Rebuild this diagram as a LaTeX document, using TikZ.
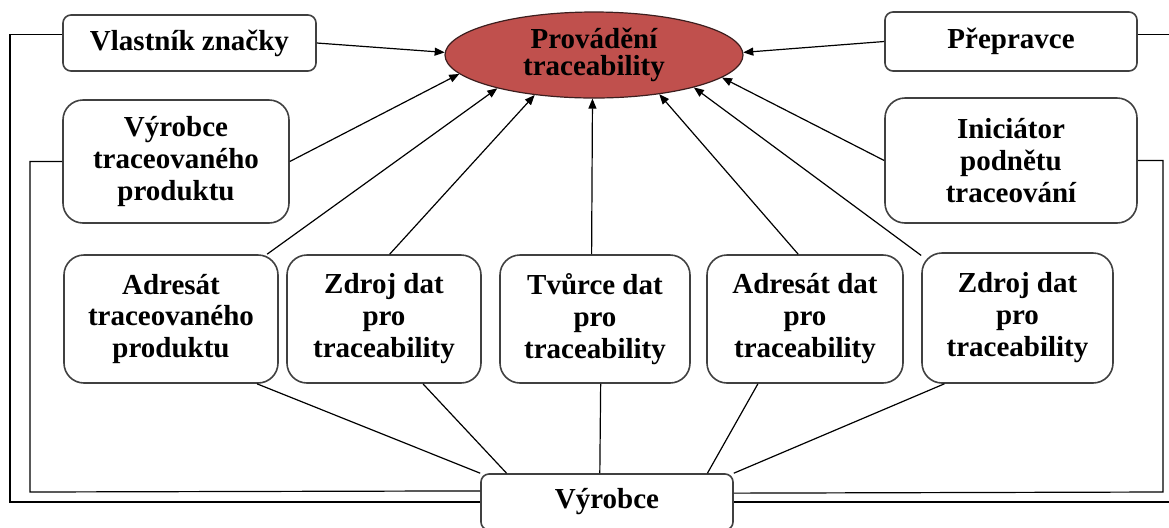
\documentclass[tikz,border=0pt]{standalone}
\usepackage{fontspec}
\setmainfont{Liberation Serif}
\usetikzlibrary{arrows.meta,shapes.geometric}
\definecolor{tracered}{RGB}{192,80,77}
\definecolor{edgegray}{RGB}{64,64,64}
\definecolor{traceedge}{RGB}{60,30,30}

\begin{document}
\begin{tikzpicture}[
		x=0.5pt,
		y=-0.5pt,
		box/.style={
			rounded corners=10pt,
			draw=edgegray,
			line width=0.8pt,
			fill=white,
			align=center,
			inner sep=0pt,
			font=\bfseries\fontsize{14.5}{16}\selectfont
		},
		smallbox/.style={box, rounded corners=4pt},
		goal/.style={
			ellipse,
			draw=traceedge,
			line width=0.6pt,
			fill=tracered,
			align=center,
			inner sep=0pt,
			minimum width=149pt,
			minimum height=43pt,
			font=\bfseries\fontsize{14.5}{13.5}\selectfont
		},
		arrow/.style={-{Triangle[length=5pt,width=4pt]}, line width=0.6pt},
		link/.style={line width=0.6pt}
	]
	
	% Canvas
	\useasboundingbox (0,0) rectangle (1169,527);
	\clip (0,0) rectangle (1169,527);
	
	% Goal
	\node[goal] (trace) at (594,55) {Provádění\\traceability};
	
	% Top boxes
	\node[smallbox, minimum width=126.5pt, minimum height=28pt] (vlastnik) at (189.5,43) {Vlastník značky};
	\node[smallbox, minimum width=126pt, minimum height=29.5pt] (prepravce) at (1011,41.5) {Přepravce};
	\node[box, minimum width=113pt, minimum height=61.5pt] (vyrobceTP) at (176,161.5) {Výrobce\\traceovaného\\produktu};
	\node[box, minimum width=126pt, minimum height=62.5pt] (iniciator) at (1011,160.5) {Iniciátor\\podnětu\\traceování};
	
	% Row of boxes
	\node[box, minimum width=107pt, minimum height=64pt] (adresatTP) at (171,319) {Adresát\\traceovaného\\produktu};
	\node[box, minimum width=97pt, minimum height=64pt] (zdrojA) at (384,319) {Zdroj dat\\pro\\traceability};
	\node[box, minimum width=95pt, minimum height=64pt] (tvurce) at (595,319) {Tvůrce dat\\pro\\traceability};
	\node[box, minimum width=98pt, minimum height=64pt] (adresatD) at (805,319) {Adresát dat\\pro\\traceability};
	\node[box, minimum width=95.5pt, minimum height=65pt] (zdrojB) at (1017.5,318) {Zdroj dat\\pro\\traceability};
	
	% Producer
	\node[smallbox, minimum width=126pt, minimum height=28pt] (vyrobce) at (607,502) {Výrobce};
	
	% Arrows
	\draw[arrow] (vlastnik.east) -- (trace.179);
	\draw[arrow] (prepravce.west) -- (trace.1);
	\draw[arrow] (vyrobceTP.east) -- (trace.188);
	\draw[arrow] (iniciator.west) -- (trace.350.5);
	\draw[arrow] (adresatTP.34) -- (trace.199);
	\draw[arrow] (zdrojA.85) -- (trace.214);
	\draw[arrow] (tvurce.93) -- (trace.268);
	\draw[arrow] (adresatD.96) -- (trace.329);
	\draw[arrow] (zdrojB.147) -- (trace.342);
	
	% Lines to producer
	\draw[link] (adresatTP.323) -- (vyrobce.north west);
	\draw[link] (zdrojA.301) -- (vyrobce.164);
	\draw[link] (tvurce.275) -- (vyrobce.104);
	\draw[link] (adresatD.234) -- (vyrobce.16);
	\draw[link] (zdrojB.222) -- (vyrobce.north east);
	
	% Side rails
	\draw[link] (vlastnik.176.4) -| (10,502) -- (vyrobce.west);
	\draw[link] (vyrobceTP.west) -| (30,492) -- (vyrobce.175.5);
	\draw[link] (prepravce.3) -| (1185,502) -- (vyrobce.east);
	\draw[link] (iniciator.east) -| (1163,492) -- (vyrobce.4.5);
	
\end{tikzpicture}
\end{document}
